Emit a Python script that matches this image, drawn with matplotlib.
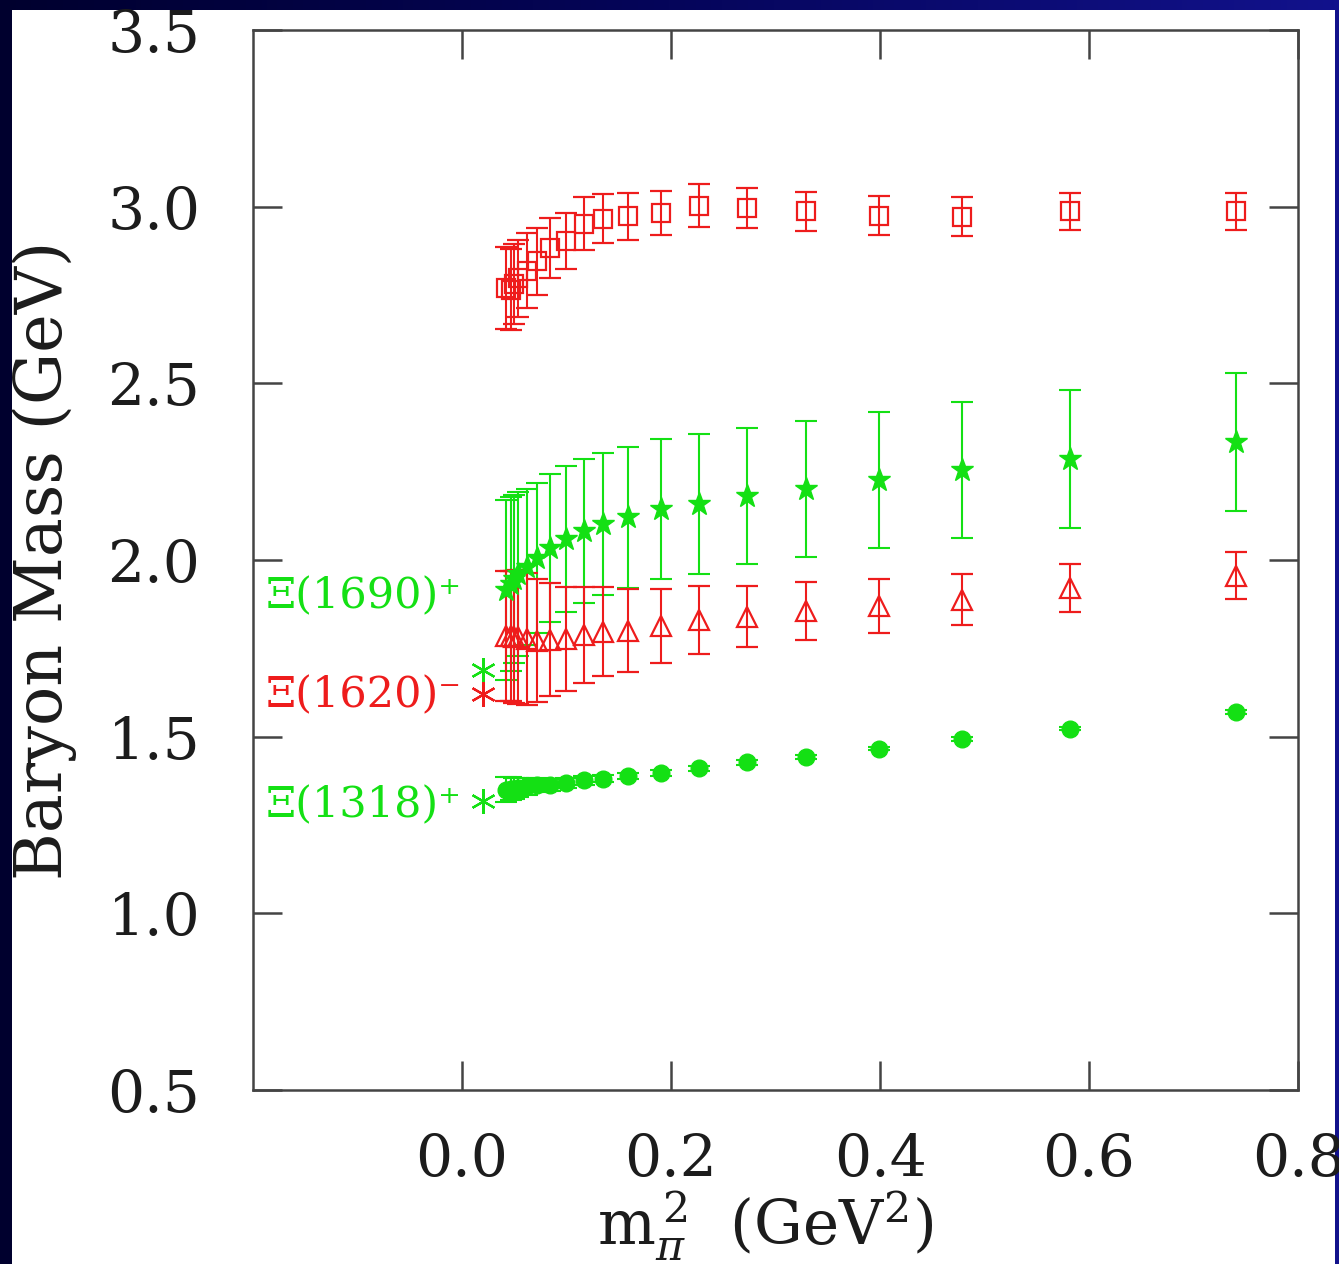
import numpy as np
import matplotlib
matplotlib.use('Agg')
import matplotlib.pyplot as plt
from matplotlib.patches import Rectangle
from matplotlib.colors import LinearSegmentedColormap

plt.rcParams['font.family'] = ['DejaVu Serif']
plt.rcParams['mathtext.fontset'] = 'dejavuserif'

# ---------------- data ----------------
m_pi2 = [0.0421, 0.0469, 0.0498, 0.0536, 0.0622, 0.0718, 0.0842, 0.0995, 0.1167,
         0.1349, 0.1589, 0.1904, 0.2268, 0.2727, 0.3292, 0.3990, 0.4785, 0.5818, 0.7407]

# open red squares
sq_mass = [2.770, 2.765, 2.780, 2.797, 2.819, 2.845, 2.884, 2.902, 2.952,
           2.966, 2.973, 2.983, 3.003, 2.997, 2.987, 2.975, 2.972, 2.987, 2.987]
sq_err = [0.116, 0.115, 0.113, 0.110, 0.107, 0.095, 0.085, 0.079, 0.074,
          0.069, 0.066, 0.062, 0.060, 0.056, 0.055, 0.055, 0.054, 0.052, 0.052]

# filled green stars
star_mass = [1.915, 1.932, 1.946, 1.960, 1.980, 2.006, 2.034, 2.059, 2.082,
             2.102, 2.121, 2.144, 2.158, 2.181, 2.201, 2.226, 2.254, 2.285, 2.333]
star_err = [0.254, 0.246, 0.237, 0.232, 0.220, 0.212, 0.209, 0.206, 0.203,
            0.200, 0.200, 0.198, 0.198, 0.192, 0.192, 0.192, 0.192, 0.195, 0.195]

# open red triangles
tri_mass = [1.786, 1.785, 1.782, 1.782, 1.777, 1.772, 1.775, 1.777, 1.788,
            1.797, 1.800, 1.814, 1.831, 1.840, 1.856, 1.869, 1.888, 1.922, 1.956]
tri_err = [0.184, 0.184, 0.186, 0.189, 0.186, 0.175, 0.161, 0.148, 0.136,
           0.126, 0.118, 0.105, 0.096, 0.087, 0.082, 0.076, 0.071, 0.068, 0.067]

# filled green circles
dot_mass = [1.350, 1.353, 1.353, 1.356, 1.359, 1.362, 1.364, 1.370, 1.376,
            1.381, 1.388, 1.398, 1.411, 1.427, 1.443, 1.466, 1.493, 1.523, 1.570]
dot_err = [0.035, 0.033, 0.030, 0.028, 0.025, 0.020, 0.017, 0.014, 0.012,
           0.010, 0.009, 0.008, 0.007, 0.006, 0.006, 0.005, 0.005, 0.005, 0.005]

# physical (experimental) states
phys_names = ['Ξ(1690)⁺', 'Ξ(1620)⁻', 'Ξ(1318)⁺']
phys_mass = [1.690, 1.620, 1.318]
phys_x = 0.02

x_ticks = [0.0, 0.2, 0.4, 0.6, 0.8]
y_ticks = [0.5, 1.0, 1.5, 2.0, 2.5, 3.0, 3.5]

GREEN = '#14e014'
RED = '#ee1c1c'
TXT = '#1c1c1c'
phys_colors = [GREEN, RED, GREEN]

# ---------------- figure ----------------
W, H = 1339, 1264
fig = plt.figure(figsize=(W / 100, H / 100), dpi=100)

bg = fig.add_axes([0, 0, 1, 1], zorder=-10)
cmap = LinearSegmentedColormap.from_list('navy', ['#00002e', '#05055a', '#12128c'])
grad = np.linspace(0, 1, 256).reshape(1, -1)
bg.imshow(grad, aspect='auto', extent=[0, 1, 0, 1], cmap=cmap)
bg.add_patch(Rectangle((12 / W, 0), (1335 - 12) / W, 1 - 10 / H,
                       facecolor='white', edgecolor='none'))
bg.set_xlim(0, 1)
bg.set_ylim(0, 1)
bg.axis('off')

ax = fig.add_axes([253 / W, 1 - 1090 / H, (1298 - 253) / W, (1090 - 30) / H])
ax.set_facecolor('white')

eb_kw = dict(linestyle='none', elinewidth=1.5, capsize=8, capthick=1.5)

ax.errorbar(m_pi2, sq_mass, yerr=sq_err, marker='s', ms=13, mfc='none', mec=RED,
            mew=1.6, color=RED, **eb_kw)
ax.errorbar(m_pi2, dot_mass, yerr=dot_err, marker='o', ms=12, mfc=GREEN, mec=GREEN,
            color=GREEN, **eb_kw)
ax.errorbar(m_pi2, star_mass, yerr=star_err, marker='*', ms=17, mfc=GREEN, mec=GREEN,
            color=GREEN, **eb_kw)
ax.errorbar(m_pi2, tri_mass, yerr=tri_err, marker='^', ms=15, mfc='none', mec=RED,
            mew=1.6, color=RED, **eb_kw)

for m, c in zip(phys_mass, phys_colors):
    ax.plot([phys_x], [m], linestyle='none', marker=(6, 2, 0), ms=18, mew=1.6,
            mec=c, color=c)

label_pos = [1.898, 1.616, 1.305]
for name, yl, c in zip(phys_names, label_pos, phys_colors):
    ax.text(-0.188, yl, name, color=c, fontsize=31, ha='left', va='center')

ax.set_xlim(-0.2, 0.8)
ax.set_ylim(0.5, 3.5)
ax.set_xticks(x_ticks)
ax.set_yticks(y_ticks)
ax.set_xticklabels([f'{v:.1f}' for v in x_ticks])
ax.set_yticklabels([f'{v:.1f}' for v in y_ticks])

for s in ax.spines.values():
    s.set_color('#444444')
    s.set_linewidth(1.8)

ax.tick_params(axis='both', which='major', direction='in', length=21, width=1.8,
               color='#444444', top=True, right=True, labelsize=42, labelcolor=TXT)
ax.tick_params(axis='x', pad=30)
ax.tick_params(axis='y', pad=38)

ax.set_ylabel('Baryon Mass (GeV)', fontsize=47, color=TXT)
ax.yaxis.set_label_coords(-0.168, 0.5)
ax.set_xlabel(r'm$_{\pi}^{\,2}$  (GeV$^{2}$)', fontsize=44, color=TXT)
ax.xaxis.set_label_coords(0.49, -0.093)

fig.savefig('out.png', dpi=100)
